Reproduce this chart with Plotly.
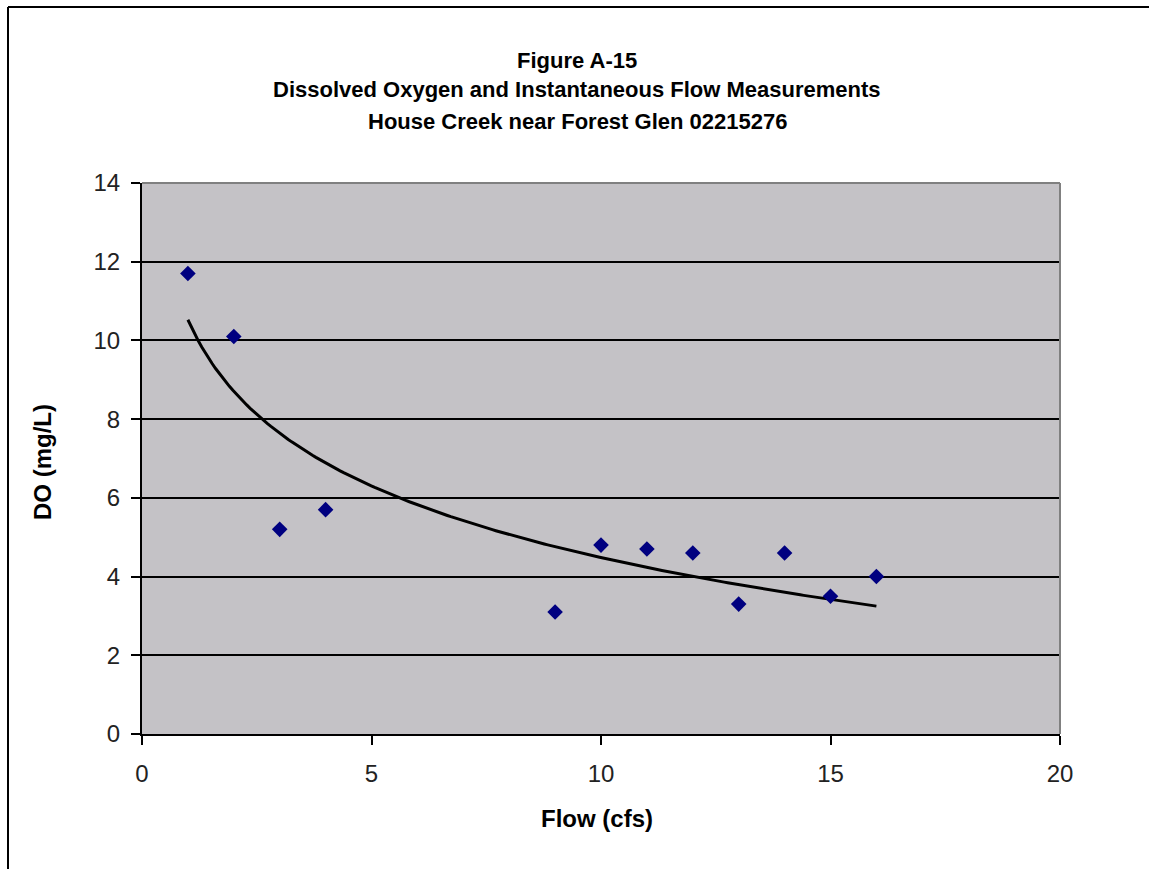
import numpy as np
import plotly.graph_objects as go

flow = [1, 2, 3, 4, 9, 10, 11, 12, 13, 14, 15, 16]
do_vals = [11.7, 10.1, 5.2, 5.7, 3.1, 4.8, 4.7, 4.6, 3.3, 4.6, 3.5, 4.0]
title_lines = ["Figure A-15",
               "Dissolved Oxygen and Instantaneous Flow Measurements",
               "House Creek near Forest Glen 02215276"]
x_title = "Flow (cfs)"
y_title = "DO (mg/L)"
x_ticks = [0, 5, 10, 15, 20]
y_ticks = [0, 2, 4, 6, 8, 10, 12, 14]

# logarithmic trendline fitted to the data
a, b = np.polyfit(np.log(flow), do_vals, 1)
fx = np.linspace(min(flow), max(flow), 200)
fy = a * np.log(fx) + b

fig = go.Figure()
fig.add_trace(go.Scatter(x=fx, y=fy, mode="lines",
                         line=dict(color="black", width=3), hoverinfo="skip"))
fig.add_trace(go.Scatter(x=flow, y=do_vals, mode="markers",
                         marker=dict(symbol="diamond", size=12, color="#000080")))

W, H = 1149, 869
L, R, T, B = 142, 89, 183, 135
pw, ph = W - L - R, H - T - B

def px(x):
    return (x - L) / pw

def py(y):
    return (H - B - y) / ph

# outer frame (left and top edges)
fig.add_shape(type="line", xref="paper", yref="paper",
              x0=px(8), x1=px(W + 5), y0=py(7), y1=py(7),
              line=dict(color="black", width=2))
fig.add_shape(type="line", xref="paper", yref="paper",
              x0=px(8), x1=px(8), y0=py(7), y1=py(H + 5),
              line=dict(color="black", width=2))
# plot area gray border top/right
fig.add_shape(type="line", xref="paper", yref="paper",
              x0=0, x1=1, y0=1, y1=1, line=dict(color="#808080", width=2))
fig.add_shape(type="line", xref="paper", yref="paper",
              x0=1, x1=1, y0=0, y1=1, line=dict(color="#808080", width=2))

title_y = [60, 90, 121]
for line, yy in zip(title_lines, title_y):
    fig.add_annotation(text=f"<b>{line}</b>", xref="paper", yref="paper",
                       x=px(577), y=py(yy), xanchor="center", yanchor="middle",
                       showarrow=False,
                       font=dict(family="Liberation Sans", size=22, color="black"))

fig.add_annotation(text=f"<b>{x_title}</b>", xref="paper", yref="paper",
                   x=px(597), y=py(818), xanchor="center", yanchor="middle",
                   showarrow=False,
                   font=dict(family="Liberation Sans", size=24, color="black"))
fig.add_annotation(text=f"<b>{y_title}</b>", xref="paper", yref="paper",
                   x=px(42), y=py(462), xanchor="center", yanchor="middle",
                   textangle=-90, showarrow=False,
                   font=dict(family="Liberation Sans", size=24, color="black"))

fig.update_layout(
    width=W, height=H,
    margin=dict(l=L, r=R, t=T, b=B),
    paper_bgcolor="white", plot_bgcolor="#C4C2C6",
    showlegend=False,
    font=dict(family="Liberation Sans", color="black"),
)
fig.update_xaxes(range=[0, 20], tickvals=x_ticks, ticks="outside", ticklen=9,
                 tickcolor="black", tickwidth=2, showgrid=False, zeroline=False,
                 showline=True, linecolor="black", linewidth=2,
                 tickfont=dict(size=24, color="#222222"), ticklabelstandoff=8)
fig.update_yaxes(range=[0, 14], tickvals=y_ticks, ticks="outside", ticklen=9,
                 tickcolor="black", tickwidth=2, showgrid=True, gridcolor="black",
                 gridwidth=1.5, zeroline=False, showline=True, linecolor="black",
                 linewidth=2, tickfont=dict(size=24, color="#222222"),
                 ticklabelstandoff=6)

fig.write_html("out.html")
